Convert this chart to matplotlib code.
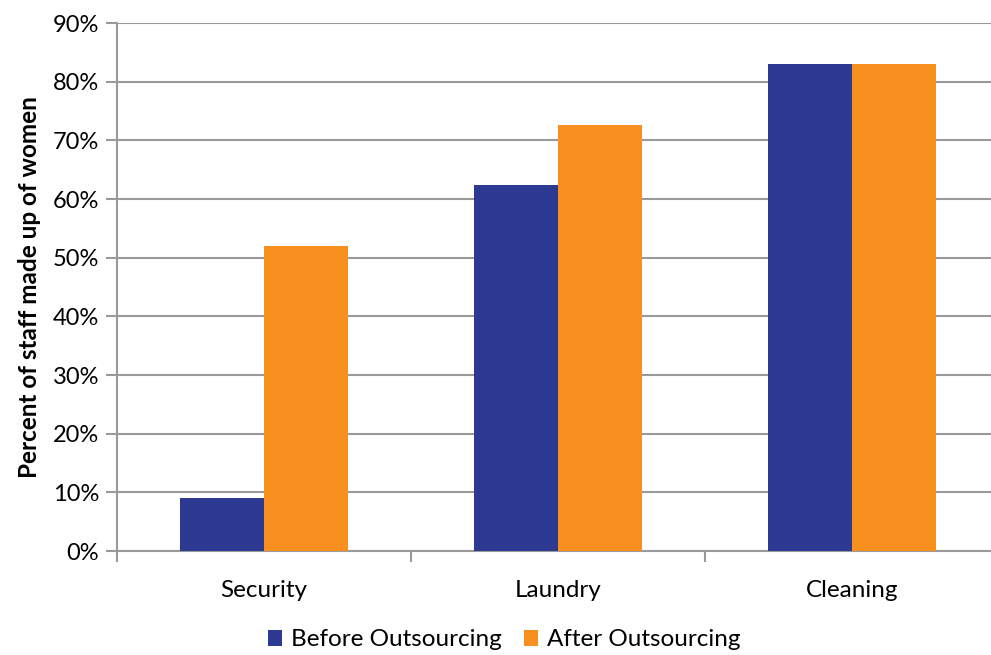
import numpy as np
import matplotlib
matplotlib.use("Agg")
import matplotlib.pyplot as plt
from matplotlib.ticker import PercentFormatter

plt.rcParams['font.family'] = ['Lato', 'DejaVu Sans']

categories = ['Security', 'Laundry', 'Cleaning']
before = [9.0, 62.4, 83.0]
after = [52.0, 72.6, 83.0]
series_names = ['Before Outsourcing', 'After Outsourcing']
colors = ['#2E3991', '#F7901E']

fig = plt.figure(figsize=(9.91, 6.55), dpi=100)
# plot area runs a little past the right edge of the figure
ax = fig.add_axes([117 / 991, 1 - 551 / 655, 882 / 991, 528 / 655])

x = np.arange(len(categories))
w = 0.2857
ax.bar(x - w / 2, before, w, color=colors[0], label=series_names[0], zorder=3)
ax.bar(x + w / 2, after, w, color=colors[1], label=series_names[1], zorder=3)

ax.set_xlim(-0.5, 2.5)
ax.set_ylim(0, 90)
ax.set_yticks(np.arange(0, 91, 10))
ax.yaxis.set_major_formatter(PercentFormatter(decimals=0))
ax.yaxis.grid(True, color='#9a9a9a', linewidth=1.5, zorder=0)

ax.set_xticks(x)
ax.set_xticklabels(categories)
ax.set_xticks(np.arange(-0.5, 3, 1), minor=True)
ax.tick_params(axis='x', which='major', length=0, pad=21, labelsize=17.5)
ax.tick_params(axis='x', which='minor', length=8, width=1.5, color='#9a9a9a')
ax.tick_params(axis='y', length=8, width=1.5, color='#9a9a9a', pad=5, labelsize=17)

for s in ['top', 'right']:
    ax.spines[s].set_visible(False)
for s in ['left', 'bottom']:
    ax.spines[s].set_color('#9a9a9a')
    ax.spines[s].set_linewidth(1.5)

ax.set_ylabel('Percent of staff made up of women', fontsize=17.5,
              fontweight='bold', labelpad=8)

fig.legend(loc='center', bbox_to_anchor=(504 / 991, 1 - 640 / 655), ncol=2,
           frameon=False, fontsize=17.5, handlelength=0.6, handleheight=0.6,
           handletextpad=0.35, columnspacing=0.9)

fig.savefig('out.png', dpi=100)
